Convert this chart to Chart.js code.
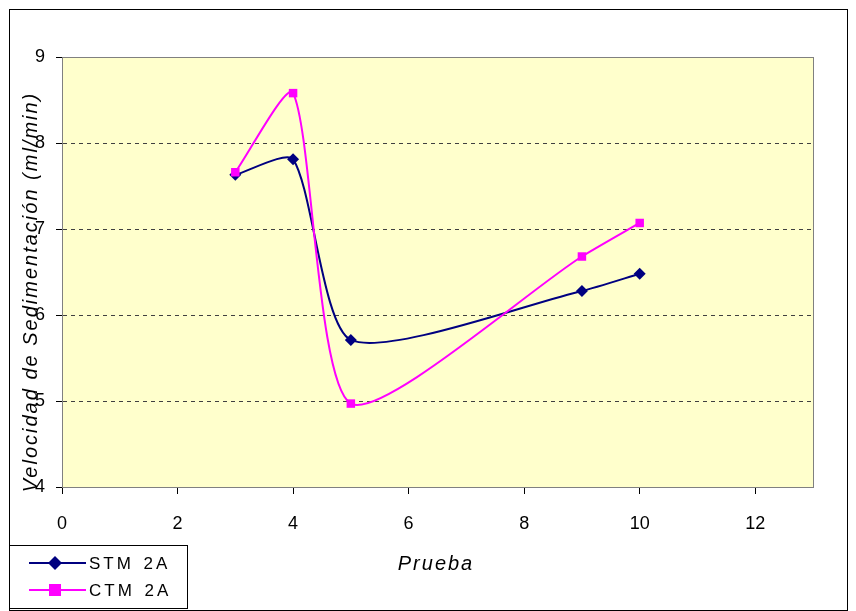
<!DOCTYPE html>
<html lang="es">
  <head>
    <meta charset="UTF-8" />
    <title>Velocidad de Sedimentación</title>
    <script src="https://cdn.jsdelivr.net/npm/chart.js"></script>
    <style>
      html, body { margin: 0; padding: 0; background: #fff; }
      #wrap { width: 856px; height: 611px; }
    </style>
  </head>
  <body>
    <div id="wrap"><canvas id="chart" width="856" height="611"></canvas></div>
    <script>
      // data
      const pruebas = [3, 4, 5, 9, 10];
      const stm2a = [7.63, 7.81, 5.71, 6.28, 6.48];
      const ctm2a = [7.66, 8.58, 4.97, 6.68, 7.07];
      const xTicks = [0, 2, 4, 6, 8, 10, 12];
      const yTicks = [4, 5, 6, 7, 8, 9];

      const seriesNames = ["STM 2A", "CTM 2A"];
      const seriesColors = ["#000080", "#ff00ff"];
      const seriesMarkers = ["rectRot", "rect"];

      // background, plot frame, outer frame, titles, legend
      const decor = {
        id: "decor",
        beforeDraw(chart) {
          const { ctx, chartArea: a } = chart;
          ctx.save();
          ctx.fillStyle = "#ffffcc";
          ctx.fillRect(a.left, a.top, a.right - a.left, a.bottom - a.top);
          ctx.restore();
        },
        afterDraw(chart) {
          const { ctx, chartArea: a } = chart;
          ctx.save();
          ctx.strokeStyle = "#808080";
          ctx.lineWidth = 1;
          ctx.strokeRect(a.left + 0.5, a.top + 0.5, a.right - a.left, a.bottom - a.top);
          // outer frame
          ctx.strokeStyle = "#000";
          ctx.strokeRect(9.5, 9.5, 838, 601);

          // axis titles
          ctx.fillStyle = "#000";
          ctx.font = "italic 20px Arial, 'Liberation Sans'";
          ctx.textAlign = "center";
          ctx.textBaseline = "middle";
          ctx.letterSpacing = "2px";
          ctx.fillText("Prueba", 436, 564);
          ctx.translate(31, 292);
          ctx.rotate(-Math.PI / 2);
          ctx.fillText("Velocidad de Sedimentación (ml/min)", 0, 0);
          ctx.restore();

          // legend box
          ctx.save();
          ctx.fillStyle = "#fff";
          ctx.fillRect(9, 545, 178, 63);
          ctx.strokeStyle = "#000";
          ctx.lineWidth = 1;
          ctx.strokeRect(9.5, 545.5, 178, 63);
          ctx.font = "17px Arial, 'Liberation Sans'";
          ctx.letterSpacing = "3px";
          ctx.wordSpacing = "2px";
          ctx.textBaseline = "middle";
          ctx.textAlign = "left";
          seriesNames.forEach((name, i) => {
            const y = 563 + i * 27;
            ctx.strokeStyle = seriesColors[i];
            ctx.lineWidth = 2;
            ctx.beginPath();
            ctx.moveTo(29, y);
            ctx.lineTo(86, y);
            ctx.stroke();
            ctx.fillStyle = seriesColors[i];
            if (seriesMarkers[i] === "rect") {
              ctx.fillRect(49, y - 6, 12, 12);
            } else {
              ctx.beginPath();
              ctx.moveTo(55, y - 7);
              ctx.lineTo(62, y);
              ctx.lineTo(55, y + 7);
              ctx.lineTo(48, y);
              ctx.closePath();
              ctx.fill();
            }
            ctx.fillStyle = "#000";
            ctx.fillText(name, 89, y + 1);
          });
          ctx.restore();
        },
      };

      const makeSet = (i, values) => ({
        label: seriesNames[i],
        data: pruebas.map((x, k) => ({ x: x, y: values[k] })),
        borderColor: seriesColors[i],
        backgroundColor: seriesColors[i],
        borderWidth: 2,
        pointStyle: seriesMarkers[i],
        pointRadius: 6,
        pointBorderWidth: 0,
        tension: 0.22,
        showLine: true,
      });

      new Chart(document.getElementById("chart"), {
        type: "scatter",
        data: {
          datasets: [makeSet(1, ctm2a), makeSet(0, stm2a)],
        },
        plugins: [decor],
        options: {
          responsive: false,
          animation: false,
          layout: { padding: { top: 57, right: 43, left: 0, bottom: 0 } },
          plugins: { legend: { display: false }, tooltip: { enabled: false } },
          scales: {
            x: {
              type: "linear",
              min: 0,
              max: 13,
              afterBuildTicks: (s) => { s.ticks = xTicks.map((v) => ({ value: v })); },
              afterFit: (s) => { s.height = 124; },
              ticks: { color: "#000", font: { size: 18, family: "Arial" }, padding: 19, maxRotation: 0 },
              grid: { drawOnChartArea: false, tickLength: 7, tickColor: "#000" },
              border: { color: "#000", width: 1 },
            },
            y: {
              min: 4,
              max: 9,
              afterBuildTicks: (s) => { s.ticks = yTicks.map((v) => ({ value: v })); },
              afterFit: (s) => { s.width = 62; },
              ticks: { color: "#000", font: { size: 18, family: "Arial" }, padding: 11 },
              grid: {
                color: (c) => (c.tick && c.tick.value > 4 && c.tick.value < 9 ? "#404040" : "rgba(0,0,0,0)"),
                tickLength: 6,
                tickColor: "#000",
                tickBorderDash: [],
              },
              border: { color: "#000", width: 1, dash: [4, 4] },
            },
          },
        },
      });
    </script>
  </body>
</html>
